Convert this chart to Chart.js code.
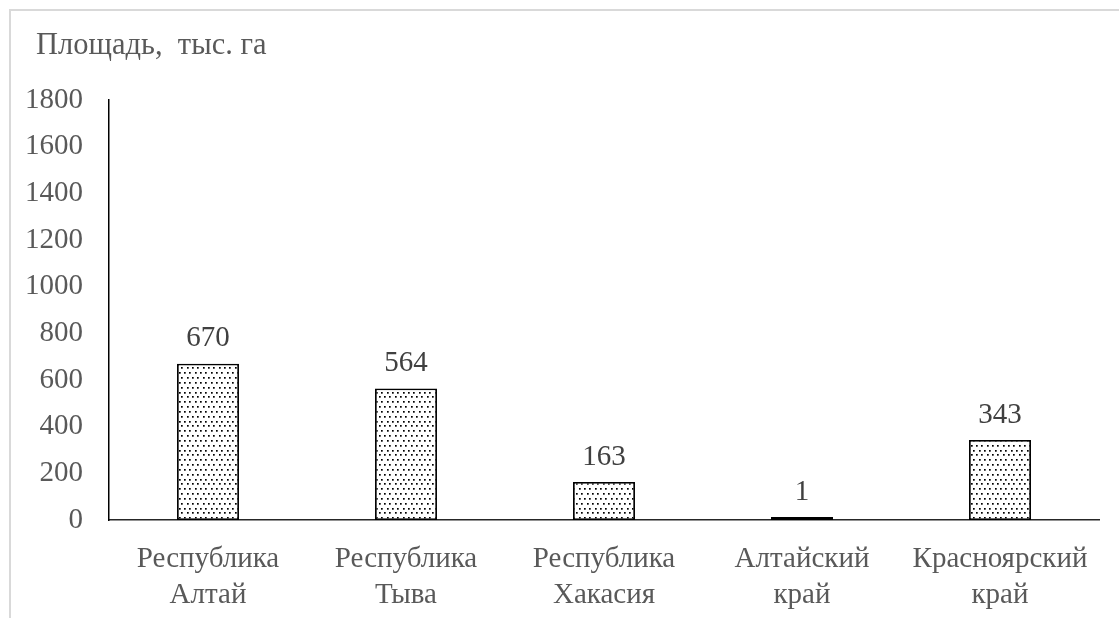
<!DOCTYPE html>
<html>
<head>
<meta charset="utf-8">
<script src="https://cdn.jsdelivr.net/npm/chart.js@4.4.1/dist/chart.umd.min.js"></script>
<style>
  html, body { margin: 0; padding: 0; background: #ffffff; }
  #wrap { width: 1119px; height: 618px; position: relative; }
</style>
</head>
<body>
<div id="wrap"><canvas id="chart" width="1119" height="618"></canvas></div>
<script>
// Площадь по регионам, тыс. га
const regions = [
  ['Республика', 'Алтай'],
  ['Республика', 'Тыва'],
  ['Республика', 'Хакасия'],
  ['Алтайский', 'край'],
  ['Красноярский', 'край']
];
const areaValues = [670, 564, 163, 1, 343];
const yTicks = [0, 200, 400, 600, 800, 1000, 1200, 1400, 1600, 1800];
const axisTitle = 'Площадь,  тыс. га';

const FONT = '"Liberation Serif", "Times New Roman", serif';
const FONT_SIZE = 29;

// dotted fill for the bars
function dotPattern() {
  const c = document.createElement('canvas');
  c.width = 16; c.height = 29;
  const g = c.getContext('2d');
  g.fillStyle = '#ffffff';
  g.fillRect(0, 0, c.width, c.height);
  g.fillStyle = '#000000';
  const step = 16 / 3, row = 29 / 6;
  for (let r = 0; r < 6; r++) {
    const off = (r % 2) ? step / 2 : 0;
    for (let k = -1; k < 4; k++) {
      const x = off + k * step;
      const y = r * row;
      g.fillRect(Math.round(x), Math.round(y), 1.7, 1.7);
    }
  }
  return g.createPattern(c, 'repeat');
}

const ctx = document.getElementById('chart').getContext('2d');
const pattern = dotPattern();

// outer frame and axis caption
const framePlugin = {
  id: 'frame',
  beforeDraw(chart) {
    const g = chart.ctx;
    g.save();
    g.fillStyle = '#ffffff';
    g.fillRect(0, 0, chart.width, chart.height);
    g.strokeStyle = '#d9d9d9';
    g.lineWidth = 2;
    g.strokeRect(10, 10, chart.width + 20, chart.height + 20);
    g.fillStyle = '#595959';
    g.font = '30.5px ' + FONT;
    g.textBaseline = 'alphabetic';
    g.textAlign = 'left';
    g.fillText(axisTitle, 36, 54);
    g.restore();
  }
};

// values above bars
const valueLabels = {
  id: 'valueLabels',
  afterDatasetsDraw(chart) {
    const g = chart.ctx;
    const meta = chart.getDatasetMeta(0);
    g.save();
    g.fillStyle = '#404040';
    g.font = FONT_SIZE + 'px ' + FONT;
    g.textAlign = 'center';
    g.textBaseline = 'middle';
    meta.data.forEach((bar, i) => {
      g.fillText(String(chart.data.datasets[0].data[i]), bar.x, bar.y - 25);
    });
    g.restore();
  }
};

new Chart(ctx, {
  type: 'bar',
  data: {
    labels: regions,
    datasets: [{
      data: areaValues,
      backgroundColor: pattern,
      borderColor: '#000000',
      borderWidth: 1.8,
      borderSkipped: false,
      minBarLength: 3,
      barPercentage: 0.313,
      categoryPercentage: 1
    }]
  },
  options: {
    responsive: false,
    animation: false,
    devicePixelRatio: 1,
    layout: { padding: { top: 100, left: 0, right: 20, bottom: 0 } },
    plugins: { legend: { display: false }, tooltip: { enabled: false } },
    scales: {
      x: {
        grid: { display: false, drawTicks: false },
        border: { display: true, color: '#262626', width: 1.5 },
        ticks: {
          color: '#595959',
          font: { family: FONT, size: FONT_SIZE, lineHeight: 1.25 },
          padding: 21,
          maxRotation: 0,
          autoSkip: false
        },
        afterFit(s) { s.height = 98; }
      },
      y: {
        min: 0,
        max: 1800,
        afterBuildTicks(s) { s.ticks = yTicks.map(v => ({ value: v })); },
        grid: { display: false, drawTicks: false },
        border: { display: true, color: '#000000', width: 1.5 },
        ticks: {
          color: '#595959',
          font: { family: FONT, size: FONT_SIZE },
          padding: 26,
          callback: v => String(v)
        },
        afterFit(s) { s.width = 109; }
      }
    }
  },
  plugins: [framePlugin, valueLabels]
});
</script>
</body>
</html>
